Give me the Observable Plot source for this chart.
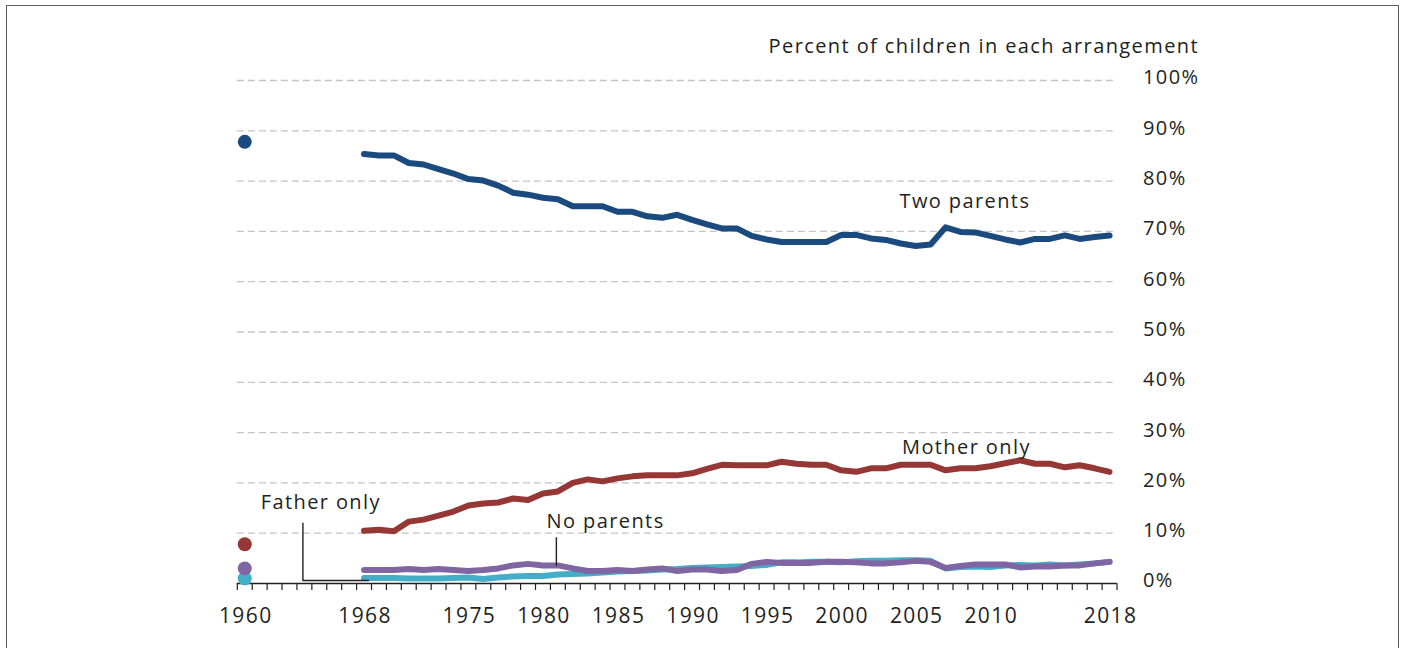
<!DOCTYPE html>
<html>
<head>
<meta charset="utf-8">
<script src="https://cdn.jsdelivr.net/npm/d3@7"></script>
<script src="https://cdn.jsdelivr.net/npm/@observablehq/plot@0.6"></script>
<style>
  html, body { margin: 0; padding: 0; background: #fff; }
  #wrap { position: relative; width: 1403px; height: 648px; overflow: hidden; }
  #frame { position: absolute; left: 6px; top: 5px; width: 1391px; height: 720px; border: 1.5px solid #5e5e5e; pointer-events: none; }
  #chart { position: absolute; left: 0; top: 0; }
  #chart text { letter-spacing: 1.4px; }
</style>
</head>
<body>
<div id="wrap"><div id="chart"></div><div id="frame"></div></div>
<script>
// ---- data ----
const years = d3.range(1968, 2019);
const twoParents = [85.4,85.1,85.1,83.6,83.3,82.4,81.5,80.4,80.1,79.1,
  77.7,77.3,76.7,76.4,75.0,75.0,75.0,73.9,73.9,73.0,
  72.7,73.3,72.3,71.4,70.6,70.6,69.1,68.4,67.9,67.9,
  67.9,67.9,69.3,69.3,68.6,68.3,67.6,67.1,67.4,70.8,
  69.9,69.8,69.1,68.4,67.8,68.5,68.5,69.2,68.5,68.9,
  69.2];
const motherOnly = [10.5,10.7,10.4,12.3,12.7,13.5,14.3,15.5,15.9,16.1,
  16.9,16.6,17.9,18.3,20.0,20.7,20.3,20.9,21.3,21.5,
  21.5,21.5,21.9,22.8,23.6,23.5,23.5,23.5,24.2,23.8,
  23.6,23.6,22.5,22.2,22.9,22.9,23.6,23.6,23.6,22.5,
  22.9,22.9,23.3,23.9,24.5,23.8,23.8,23.1,23.5,22.9,
  22.2];
const fatherOnly = [1.1,1.1,1.1,1.0,1.0,1.0,1.1,1.2,0.9,1.2,
  1.4,1.5,1.5,1.8,1.9,2.0,2.2,2.4,2.5,2.6,
  2.8,2.9,3.1,3.2,3.3,3.4,3.5,3.7,4.2,4.2,
  4.3,4.3,4.2,4.4,4.5,4.5,4.6,4.6,4.5,3.0,
  3.3,3.4,3.3,3.6,3.7,3.6,3.8,3.6,3.8,4.0,
  4.3];
const noParents = [2.7,2.7,2.7,2.9,2.7,2.9,2.7,2.5,2.7,3.0,
  3.6,3.9,3.6,3.6,3.0,2.5,2.5,2.7,2.5,2.8,
  3.0,2.5,2.8,2.8,2.5,2.7,3.9,4.3,4.1,4.1,
  4.1,4.3,4.3,4.2,4.0,4.0,4.2,4.5,4.3,3.1,
  3.5,3.8,3.8,3.8,3.2,3.4,3.4,3.6,3.6,4.0,
  4.3];
const seriesNames = ["Two parents", "Mother only", "Father only", "No parents"];
const seriesColors = ["#1b4a7e", "#953735", "#44aec8", "#8065a3"];
const values1960 = [87.8, 7.8, 1.0, 3.0];
const yTicks = [0,10,20,30,40,50,60,70,80,90,100];
const xLabelYears = [1960,1968,1975,1980,1985,1990,1995,2000,2005,2010,2018];
const yearBounds = d3.range(1959.5, 2019, 1);
const titleText = "Percent of children in each arrangement";
// label anchors (year, percent)
const labels = [
  {text: "Two parents", year: 2008.3, value: 75.9},
  {text: "Mother only", year: 2008.4, value: 27.0},
  {text: "No parents", year: 1984.2, value: 12.3},
  {text: "Father only", year: 1965.1, value: 16.1}
];
const leaders = [
  [{year: 1980.9, value: 9.1}, {year: 1980.9, value: 3.6}],
  [{year: 1963.9, value: 12.0}, {year: 1963.9, value: 0.6}, {year: 1968.3, value: 0.6}]
];

// ---- build tables ----
const allSeries = [twoParents, motherOnly, fatherOnly, noParents];
const rows = [];
allSeries.forEach((arr, i) => arr.forEach((v, j) => rows.push({series: seriesNames[i], year: years[j], value: v})));
const dots = seriesNames.map((s, i) => ({series: s, year: 1960, value: values1960[i]}));
const leaderRows = leaders.flatMap((pts, k) => pts.map(p => ({...p, k})));

const font = "'Open Sans', sans-serif";
const plot = Plot.plot({
  width: 1403,
  height: 648,
  marginLeft: 236.8,
  marginRight: 286.5,
  marginTop: 80,
  marginBottom: 65,
  style: {fontFamily: font, color: "#231f20", background: "transparent"},
  x: {domain: [1959.5, 2018.5], label: null},
  y: {domain: [0, 100], label: null},
  color: {domain: seriesNames, range: seriesColors},
  marks: [
    Plot.ruleY(yTicks.filter(d => d > 0), {x1: 1959.5, x2: 2018.3, stroke: "#c4c4c4", strokeWidth: 1.3, strokeDasharray: "7,4"}),
    Plot.axisX({ticks: yearBounds, tickSize: 7, tickFormat: () => "", stroke: "#231f20", strokeWidth: 1.2}),
    Plot.ruleY([0], {stroke: "#231f20", strokeWidth: 1.5}),
    Plot.axisX({ticks: xLabelYears, tickSize: 0, tickPadding: 25, tickFormat: d => String(d), fontSize: 21, fill: "#231f20", dx: 1}),
    Plot.axisY({anchor: "right", ticks: yTicks, tickSize: 0, tickPadding: 26, tickFormat: d => d + "%", fontSize: 20, textAnchor: "start", fill: "#231f20", dy: -2.5}),
    Plot.line(rows, {x: "year", y: "value", z: "series", stroke: "series", strokeWidth: 6, strokeLinejoin: "round", strokeLinecap: "round"}),
    Plot.dot(dots, {x: "year", y: "value", fill: "series", r: 7}),
    Plot.line(leaderRows, {x: "year", y: "value", z: "k", stroke: "#231f20", strokeWidth: 1.4}),
    Plot.text(labels, {x: "year", y: "value", text: "text", fontSize: 20, fill: "#231f20", textAnchor: "middle"}),
    Plot.text([titleText], {frameAnchor: "top-right", dx: 82, dy: -42, textAnchor: "end", fontSize: 20, fill: "#231f20"})
  ]
});
document.getElementById("chart").appendChild(plot);
</script>
</body>
</html>
